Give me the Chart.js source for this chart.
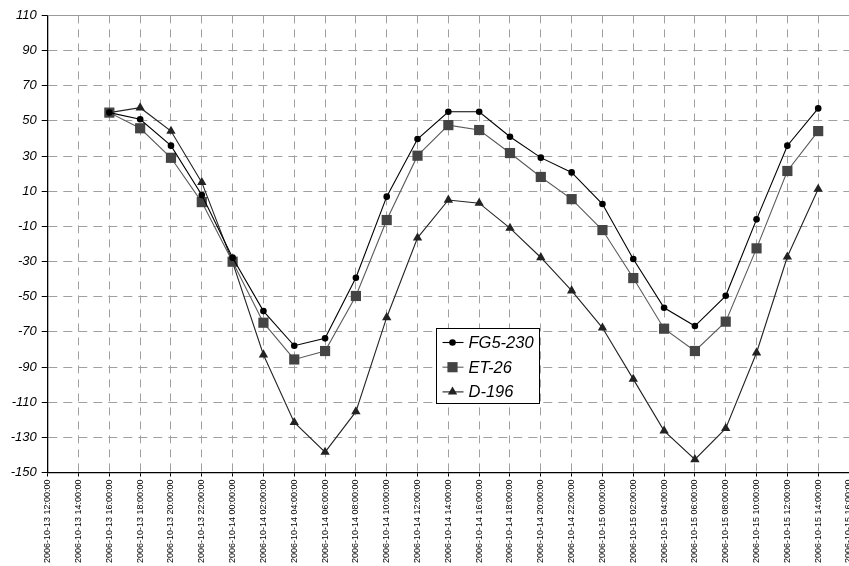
<!DOCTYPE html>
<html>
<head>
<meta charset="utf-8">
<script src="https://cdn.jsdelivr.net/npm/chart.js@4/dist/chart.umd.min.js"></script>
<style>
html,body{margin:0;padding:0;background:#fff;overflow:hidden;}
#wrap{width:849px;height:566px;position:relative;}
</style>
</head>
<body>
<div id="wrap"><canvas id="c" width="849" height="566"></canvas></div>
<script>
// Tick labels of the category axis (every 2 hours)
const timeLabels = [
  "2006-10-13 12:00:00","2006-10-13 14:00:00","2006-10-13 16:00:00","2006-10-13 18:00:00",
  "2006-10-13 20:00:00","2006-10-13 22:00:00","2006-10-14 00:00:00","2006-10-14 02:00:00",
  "2006-10-14 04:00:00","2006-10-14 06:00:00","2006-10-14 08:00:00","2006-10-14 10:00:00",
  "2006-10-14 12:00:00","2006-10-14 14:00:00","2006-10-14 16:00:00","2006-10-14 18:00:00",
  "2006-10-14 20:00:00","2006-10-14 22:00:00","2006-10-15 00:00:00","2006-10-15 02:00:00",
  "2006-10-15 04:00:00","2006-10-15 06:00:00","2006-10-15 08:00:00","2006-10-15 10:00:00",
  "2006-10-15 12:00:00","2006-10-15 14:00:00","2006-10-15 16:00:00"
];
// Measurement times (2006-10-13 16:00 .. 2006-10-15 14:00)
const sampleLabels = timeLabels.slice(2, 26);

const seriesNames = ["FG5-230", "ET-26", "D-196"];
const fg5_230 = [54.7, 50.9, 35.9, 7.8, -27.8, -58.2, -77.9, -73.7, -39.2, 6.9, 39.7, 55.2,
                 55.2, 41.0, 29.1, 20.7, 2.7, -28.6, -56.3, -66.7, -49.5, -6.0, 35.9, 57.1];
const et_26   = [54.7, 45.8, 29.0, 3.8, -30.1, -64.8, -85.7, -80.9, -49.6, -6.4, 30.2, 47.6,
                 44.8, 31.7, 18.1, 5.5, -12.1, -39.4, -68.2, -80.9, -64.2, -22.5, 21.5, 44.2];
const d_196   = [54.7, 57.5, 44.2, 15.0, -30.5, -83.0, -121.5, -138.4, -115.4, -61.8, -16.5, 5.0,
                 3.2, -11.0, -27.7, -46.6, -67.7, -96.9, -126.3, -142.6, -124.9, -81.9, -27.3, 11.2];

const yMin = -150, yMax = 110, yStep = 20;

function toPoints(vals){ return vals.map((v,i)=>({x: sampleLabels[i], y: v})); }

const styles = [
  {line:'#000000', fill:'#000000', point:'circle',   r:3.3},
  {line:'#5a5a5a', fill:'#444444', point:'rect',     r:7.2},
  {line:'#222222', fill:'#222222', point:'triangle', r:5.4}
];
const allSeries = [fg5_230, et_26, d_196];

const datasets = allSeries.map((vals, k) => ({
  label: seriesNames[k],
  data: toPoints(vals),
  borderColor: styles[k].line,
  backgroundColor: styles[k].fill,
  pointBackgroundColor: styles[k].fill,
  pointBorderColor: styles[k].fill,
  pointStyle: styles[k].point,
  pointRadius: styles[k].r,
  pointBorderWidth: 0,
  borderWidth: 1.1,
  tension: 0,
  fill: false,
  clip: false
}));

const FONT = "'Liberation Sans', Arial, sans-serif";

const frameAndLegend = {
  id: 'frameAndLegend',
  afterDraw(chart){
    const ctx = chart.ctx, a = chart.chartArea;
    ctx.save();
    // solid top frame line of the plot area
    ctx.strokeStyle = '#9a9a9a';
    ctx.lineWidth = 1;
    ctx.beginPath();
    ctx.moveTo(a.left, Math.round(a.top)+0.5);
    ctx.lineTo(a.right, Math.round(a.top)+0.5);
    ctx.stroke();
    // legend box
    const w = a.right - a.left, h = a.bottom - a.top;
    const bx = Math.round(a.left + 0.4843*w)+0.5, by = Math.round(a.top + 0.6845*h)+0.5;
    const bw = 103, bh = 75;
    ctx.fillStyle = '#ffffff';
    ctx.fillRect(bx, by, bw, bh);
    ctx.strokeStyle = '#000000';
    ctx.lineWidth = 1;
    ctx.strokeRect(bx, by, bw, bh);
    ctx.font = "italic 16.5px " + FONT;
    ctx.textBaseline = 'middle';
    ctx.textAlign = 'left';
    seriesNames.forEach((name, k) => {
      const cy = by + 14 + k*24.7;
      const lx0 = bx + 6, lx1 = bx + 27, mx = bx + 16;
      ctx.strokeStyle = styles[k].line;
      ctx.lineWidth = 1.1;
      ctx.beginPath(); ctx.moveTo(lx0, cy); ctx.lineTo(lx1, cy); ctx.stroke();
      ctx.fillStyle = styles[k].fill;
      ctx.strokeStyle = styles[k].fill;
      Chart.helpers.drawPoint(ctx, {pointStyle: styles[k].point, radius: styles[k].r, rotation: 0, borderWidth: 0}, mx, cy);
      ctx.fillStyle = '#000000';
      ctx.fillText(name, bx + 32, cy + 1);
    });
    ctx.restore();
  }
};

new Chart(document.getElementById('c'), {
  type: 'line',
  data: { labels: timeLabels, datasets },
  options: {
    responsive: false,
    animation: false,
    layout: { autoPadding: false, padding: { top: 15.4, left: 0, right: 0, bottom: 0 } },
    plugins: { legend: { display: false }, tooltip: { enabled: false } },
    scales: {
      x: {
        type: 'category',
        offset: false,
        grid: { display: true, color: '#a0a0a0', lineWidth: 1, offset: false,
                drawTicks: true, tickLength: 4, tickColor: '#000000', tickWidth: 1 },
        border: { display: true, color: '#000000', width: 1.3, dash: [8,6] },
        ticks: { autoSkip: false, minRotation: 90, maxRotation: 90, padding: 3,
                 color: '#000000', font: { family: FONT, size: 9 } },
        afterFit(s){ s.height = 93.5; s.paddingLeft = 0; s.paddingRight = 0; }
      },
      y: {
        min: yMin, max: yMax,
        grid: { display: true, color: '#a0a0a0', lineWidth: 1,
                drawTicks: true, tickLength: 6, tickColor: '#000000', tickWidth: 1 },
        border: { display: true, color: '#000000', width: 1.3, dash: [9,6] },
        ticks: { stepSize: yStep, padding: 5, color: '#000000',
                 font: { family: FONT, size: 13, style: 'italic' } },
        afterFit(s){ s.width = 47.7; s.paddingTop = 0; s.paddingBottom = 0; }
      }
    }
  },
  plugins: [frameAndLegend]
});
</script>
</body>
</html>
